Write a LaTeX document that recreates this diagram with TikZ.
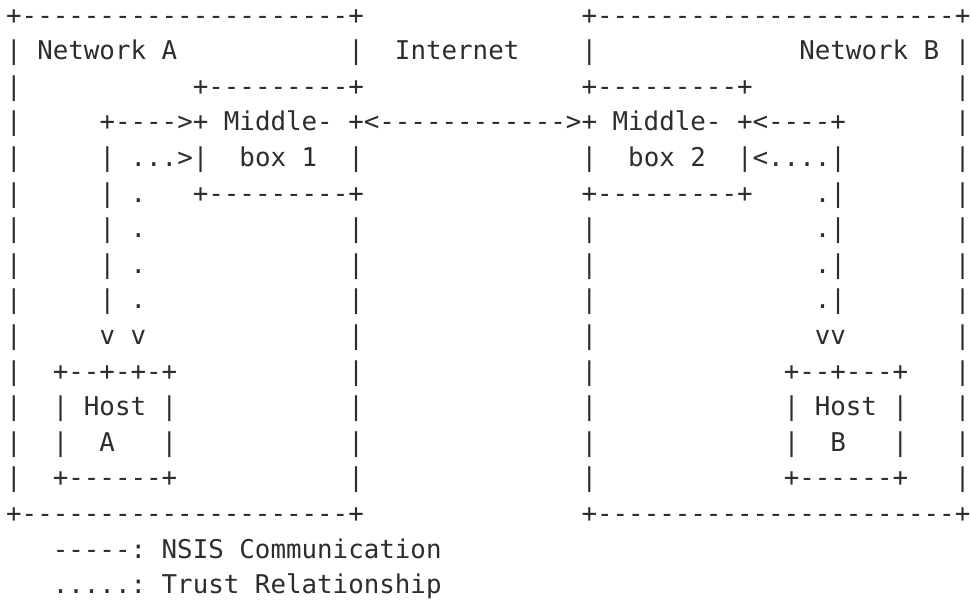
\documentclass[tikz,border=0pt]{standalone}
\usepackage{fontspec}
\newfontfamily\asciimono{DejaVu Sans Mono}
\definecolor{ink}{RGB}{45,45,45}
\tikzset{asciirow/.style={anchor=base west, inner sep=0pt, outer sep=0pt,
  font=\asciimono\fontsize{25.83}{30}\selectfont, text=ink}}
\begin{document}
\begin{tikzpicture}[x=1pt,y=-1pt]
\fill[white] (0,0) rectangle (971,600);
\useasboundingbox (0,0) rectangle (971,600);
\node[asciirow] (r1)  at (6.2,24.0)   {+---------------------+~~~~~~~~~~~~~~+-----------------------+};
\node[asciirow] (r2)  at (6.2,59.6)   {|~Network~A~~~~~~~~~~~|~~Internet~~~~|~~~~~~~~~~~~~Network~B~|};
\node[asciirow] (r3)  at (6.2,95.2)   {|~~~~~~~~~~~+---------+~~~~~~~~~~~~~~+---------+~~~~~~~~~~~~~|};
\node[asciirow] (r4)  at (6.2,130.8)  {|~~~~~+---->+~Middle-~+<------------>+~Middle-~+<----+~~~~~~~|};
\node[asciirow] (r5)  at (6.2,166.4)  {|~~~~~|~...>|~~box~1~~|~~~~~~~~~~~~~~|~~box~2~~|<....|~~~~~~~|};
\node[asciirow] (r6)  at (6.2,202.0)  {|~~~~~|~.~~~+---------+~~~~~~~~~~~~~~+---------+~~~~.|~~~~~~~|};
\node[asciirow] (r7)  at (6.2,237.6)  {|~~~~~|~.~~~~~~~~~~~~~|~~~~~~~~~~~~~~|~~~~~~~~~~~~~~.|~~~~~~~|};
\node[asciirow] (r8)  at (6.2,273.2)  {|~~~~~|~.~~~~~~~~~~~~~|~~~~~~~~~~~~~~|~~~~~~~~~~~~~~.|~~~~~~~|};
\node[asciirow] (r9)  at (6.2,308.8)  {|~~~~~|~.~~~~~~~~~~~~~|~~~~~~~~~~~~~~|~~~~~~~~~~~~~~.|~~~~~~~|};
\node[asciirow] (r10) at (6.2,344.4)  {|~~~~~v~v~~~~~~~~~~~~~|~~~~~~~~~~~~~~|~~~~~~~~~~~~~~vv~~~~~~~|};
\node[asciirow] (r11) at (6.2,380.0)  {|~~+--+-+-+~~~~~~~~~~~|~~~~~~~~~~~~~~|~~~~~~~~~~~~+--+---+~~~|};
\node[asciirow] (r12) at (6.2,415.6)  {|~~|~Host~|~~~~~~~~~~~|~~~~~~~~~~~~~~|~~~~~~~~~~~~|~Host~|~~~|};
\node[asciirow] (r13) at (6.2,451.2)  {|~~|~~A~~~|~~~~~~~~~~~|~~~~~~~~~~~~~~|~~~~~~~~~~~~|~~B~~~|~~~|};
\node[asciirow] (r14) at (6.2,486.8)  {|~~+------+~~~~~~~~~~~|~~~~~~~~~~~~~~|~~~~~~~~~~~~+------+~~~|};
\node[asciirow] (r15) at (6.2,522.4)  {+---------------------+~~~~~~~~~~~~~~+-----------------------+};
\node[asciirow] (r16) at (52.85,558.0) {-----:~NSIS~Communication};
\node[asciirow] (r17) at (52.85,593.6) {.....:~Trust~Relationship};
\end{tikzpicture}
\end{document}
